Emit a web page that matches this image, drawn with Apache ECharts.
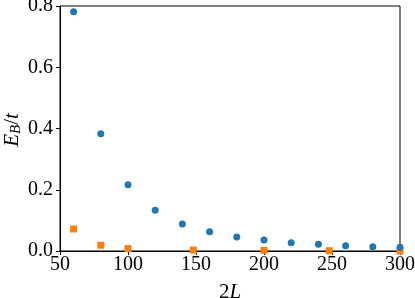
<!DOCTYPE html>
<html>
<head>
<meta charset="utf-8">
<script src="https://cdn.jsdelivr.net/npm/echarts@6/dist/echarts.min.js"></script>
<style>html,body{margin:0;padding:0;background:#fff}#c{width:415px;height:298px}</style>
</head>
<body>
<div id="c"></div>
<script>
const blueX = [60, 80, 100, 120, 140, 160, 180, 200, 220, 240, 260, 280, 300];
const blueY = [0.781, 0.383, 0.216, 0.133, 0.088, 0.063, 0.046, 0.036, 0.027, 0.022, 0.017, 0.014, 0.012];
const orangeX = [60, 80, 100, 148, 200, 248, 300];
const orangeY = [0.072, 0.019, 0.008, 0.003, 0.002, 0.001, 0.0];
const xTicks = [50, 100, 150, 200, 250, 300];
const yTicks = [0.0, 0.2, 0.4, 0.6, 0.8];

const FONT = '"Liberation Serif", serif';
const chart = echarts.init(document.getElementById('c'));
chart.setOption({
  animation: false,
  grid: {left: 60, right: 15, top: 6, bottom: 47, show: true, borderColor: '#000', borderWidth: 1,
         backgroundColor: 'transparent', containLabel: false, outerBoundsMode: 'none'},
  graphic: [{
    type: 'text', x: 12, y: 130, rotation: Math.PI / 2,
    style: {
      text: '{i|E}{s|B}{n|/}{i|t}', align: 'center', verticalAlign: 'middle',
      rich: {
        i: {fontFamily: FONT, fontSize: 21, fontStyle: 'italic', fill: '#000'},
        s: {fontFamily: FONT, fontSize: 15, fontStyle: 'italic', fill: '#000', verticalAlign: 'bottom', padding: [8, 0, 0, 0]},
        n: {fontFamily: FONT, fontSize: 21, fill: '#000'}
      }
    }
  }],
  xAxis: {
    type: 'value', min: xTicks[0], max: xTicks[xTicks.length-1], interval: 50,
    axisLine: {show: true, lineStyle: {color: '#000', width: 1}},
    axisTick: {show: true, inside: false, length: 4, lineStyle: {color: '#000'}},
    splitLine: {show: false},
    axisLabel: {fontFamily: FONT, fontSize: 20, color: '#000', margin: 4},
    name: '{n|2}{i|L}', nameLocation: 'middle', nameGap: 31,
    nameTextStyle: {rich: {n: {fontFamily: FONT, fontSize: 21, color: '#000'}, i: {fontFamily: FONT, fontSize: 21, fontStyle: 'italic', color: '#000'}}}
  },
  yAxis: {
    type: 'value', min: yTicks[0], max: yTicks[yTicks.length-1], interval: 0.2,
    axisLine: {show: true, lineStyle: {color: '#000', width: 1}},
    axisTick: {show: true, inside: false, length: 4, lineStyle: {color: '#000'}},
    splitLine: {show: false},
    axisLabel: {fontFamily: FONT, fontSize: 20, color: '#000', margin: 7, formatter: v => v.toFixed(1)}
  },
  series: [
    {type: 'scatter', data: blueX.map((x, i) => [x, blueY[i]]), symbol: 'circle', symbolSize: 7,
     itemStyle: {color: '#1f77b4', opacity: 1}, clip: true, z: 3},
    {type: 'scatter', data: orangeX.map((x, i) => [x, orangeY[i]]), symbol: 'rect', symbolSize: 7,
     itemStyle: {color: '#ff7f0e', opacity: 1}, clip: true, z: 2}
  ]
});
</script>
</body>
</html>
